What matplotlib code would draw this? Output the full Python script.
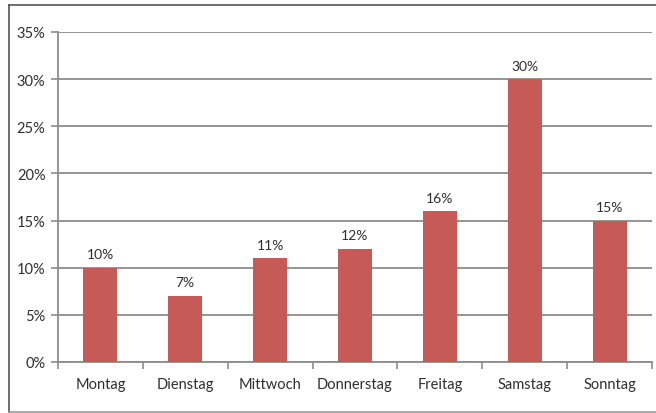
#!/usr/bin/env python3

# Weekday share bar chart, Excel-style.

import matplotlib.pyplot as plt
from matplotlib.lines import Line2D
from matplotlib.ticker import FuncFormatter

days = ["Montag", "Dienstag", "Mittwoch", "Donnerstag", "Freitag", "Samstag", "Sonntag"]
share = [10, 7, 11, 12, 16, 30, 15]
yticks = [0, 5, 10, 15, 20, 25, 30, 35]

BAR_COLOR = "#C65A56"
GRID_COLOR = "#8C8C8C"
TEXT_COLOR = "#2E2E2E"

plt.rcParams["font.family"] = ["Lato", "DejaVu Sans"]
plt.rcParams["font.size"] = 10

W, H = 656, 414
fig = plt.figure(figsize=(W / 100, H / 100), dpi=100)
ax = fig.add_axes([58 / W, (H - 363) / H, (652 - 58) / W, (363 - 33) / H])

x = list(range(len(days)))
ax.bar(x, share, width=0.4, color=BAR_COLOR, zorder=3)

for xi, v in zip(x, share):
    ax.text(xi, v + 0.8, f"{v}%", ha="center", va="bottom", color=TEXT_COLOR, fontsize=10)

ax.set_xlim(-0.5, len(days) - 0.5)
ax.set_ylim(0, 35)
ax.set_yticks(yticks)
ax.yaxis.set_major_formatter(FuncFormatter(lambda v, p: f"{v:.0f}%"))
ax.set_xticks(x)
ax.set_xticklabels(days)
ax.set_xticks([i - 0.5 for i in range(len(days) + 1)], minor=True)

ax.grid(axis="y", color=GRID_COLOR, linewidth=1.3, zorder=0)
for side in ["top", "right"]:
    ax.spines[side].set_visible(False)
ax.spines["left"].set_color(GRID_COLOR)
ax.spines["left"].set_linewidth(1.3)
ax.spines["bottom"].set_color(GRID_COLOR)
ax.spines["bottom"].set_linewidth(1.3)

ax.tick_params(axis="x", which="major", length=0, pad=11, colors=TEXT_COLOR, labelsize=10.5)
ax.tick_params(axis="x", which="minor", length=5, color=GRID_COLOR, width=1.2)
ax.tick_params(axis="y", length=5, color=GRID_COLOR, width=1.2, pad=4, colors=TEXT_COLOR, labelsize=10.5)
ax.tick_params(axis="y", which="both", color=GRID_COLOR)

# outer frame around the chart
frame = dict(color="#555555", linewidth=1.2, transform=fig.transFigure)
fig.add_artist(Line2D([8.5 / W, 8.5 / W], [1 - 6 / H, 1 - 412.5 / H], **frame))
fig.add_artist(Line2D([8.5 / W, 1], [1 - 6 / H, 1 - 6 / H], **frame))
fig.add_artist(Line2D([8.5 / W, 1], [1 - 412.5 / H, 1 - 412.5 / H], color="#999999", linewidth=1.2, transform=fig.transFigure))

fig.savefig("out.png", dpi=100)
plt.close(fig)
